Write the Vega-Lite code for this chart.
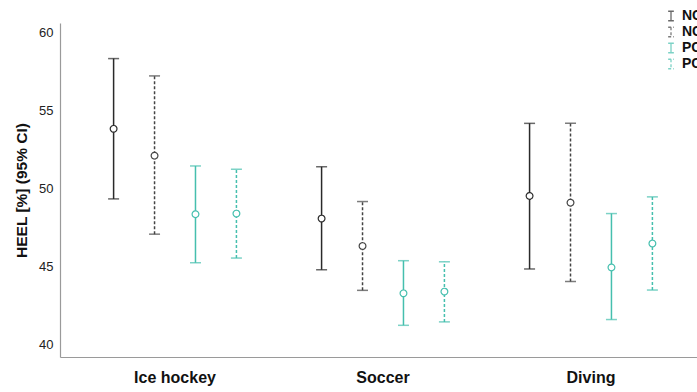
{
  "$schema": "https://vega.github.io/schema/vega-lite/v6.json",
  "width": 646,
  "height": 334,
  "autosize": {"type": "none"},
  "padding": {"left": 60, "top": 23, "right": 0, "bottom": 35},
  "background": "white",
  "config": {
    "view": {"stroke": null},
    "font": "Liberation Sans",
    "axis": {"grid": false, "ticks": false, "domainColor": "#9a9a9a", "domainWidth": 1.2, "labelColor": "#222", "titleColor": "#111"}
  },
  "data": {
    "values": [
      {"sport": "Ice hockey", "group": "NC pre", "mean": 53.82, "lo": 49.33, "hi": 58.32},
      {"sport": "Ice hockey", "group": "NC post", "mean": 52.1, "lo": 47.07, "hi": 57.21},
      {"sport": "Ice hockey", "group": "PC pre", "mean": 48.35, "lo": 45.24, "hi": 51.44},
      {"sport": "Ice hockey", "group": "PC post", "mean": 48.39, "lo": 45.54, "hi": 51.23},
      {"sport": "Soccer", "group": "NC pre", "mean": 48.07, "lo": 44.79, "hi": 51.39},
      {"sport": "Soccer", "group": "NC post", "mean": 46.31, "lo": 43.47, "hi": 49.16},
      {"sport": "Soccer", "group": "PC pre", "mean": 43.28, "lo": 41.23, "hi": 45.37},
      {"sport": "Soccer", "group": "PC post", "mean": 43.39, "lo": 41.45, "hi": 45.3},
      {"sport": "Diving", "group": "NC pre", "mean": 49.52, "lo": 44.84, "hi": 54.17},
      {"sport": "Diving", "group": "NC post", "mean": 49.09, "lo": 44.03, "hi": 54.17},
      {"sport": "Diving", "group": "PC pre", "mean": 44.94, "lo": 41.6, "hi": 48.39},
      {"sport": "Diving", "group": "PC post", "mean": 46.47, "lo": 43.49, "hi": 49.46}
    ]
  },
  "encoding": {
    "x": {
      "field": "sport", "type": "nominal", "sort": ["Ice hockey", "Soccer", "Diving"],
      "scale": {"paddingInner": 0, "paddingOuter": 0.053},
      "axis": {"title": null, "labelAngle": 0, "labelFontSize": 16, "labelFontWeight": "bold", "labelPadding": 12, "labelColor": "#111"}
    },
    "xOffset": {
      "field": "group", "type": "nominal", "sort": ["NC pre", "NC post", "PC pre", "PC post"],
      "scale": {"paddingInner": 0, "paddingOuter": 0.54}
    },
    "color": {
      "field": "group", "type": "nominal", "sort": ["NC pre", "NC post", "PC pre", "PC post"],
      "scale": {"domain": ["NC pre", "NC post", "PC pre", "PC post"], "range": ["#2a2a2a", "#444444", "#45bfae", "#45bfae"]},
      "legend": {
        "title": null, "orient": "none", "legendX": 604, "legendY": -14,
        "symbolType": "M-0.6,-1H0.6M0,-1V1M-0.6,1H0.6", "symbolSize": 90, "symbolStrokeWidth": 1.3,
        "labelFontSize": 14, "labelFontWeight": "bold", "labelColor": "#111", "rowPadding": 0, "labelOffset": 4
      }
    },
    "strokeDash": {
      "field": "group", "type": "nominal", "sort": ["NC pre", "NC post", "PC pre", "PC post"],
      "scale": {"domain": ["NC pre", "NC post", "PC pre", "PC post"], "range": [[1, 0], [3, 2], [1, 0], [3, 2]]},
      "legend": null
    }
  },
  "layer": [
    {
      "mark": {"type": "rule", "strokeWidth": 1.5},
      "encoding": {
        "y": {
          "field": "lo", "type": "quantitative",
          "scale": {"domain": [39.2, 60.6], "nice": false, "zero": false},
          "axis": {"title": "HEEL [%] (95% CI)", "titleFontSize": 15.5, "titleFontWeight": "bold", "titlePadding": 9, "values": [40, 45, 50, 55, 60], "labelFontSize": 13, "labelPadding": 7}
        },
        "y2": {"field": "hi"}
      }
    },
    {
      "mark": {"type": "tick", "size": 11, "thickness": 1.5},
      "encoding": {"y": {"field": "hi", "type": "quantitative"}}
    },
    {
      "mark": {"type": "tick", "size": 11, "thickness": 1.5},
      "encoding": {"y": {"field": "lo", "type": "quantitative"}}
    },
    {
      "mark": {"type": "point", "filled": true, "fill": "white", "size": 45, "strokeWidth": 1.2, "opacity": 1},
      "encoding": {
        "y": {"field": "mean", "type": "quantitative"},
        "stroke": {"field": "group", "type": "nominal", "scale": {"domain": ["NC pre", "NC post", "PC pre", "PC post"], "range": ["#2a2a2a", "#444444", "#45bfae", "#45bfae"]}, "legend": null},
        "strokeDash": {"value": [1, 0]}
      }
    }
  ]
}
